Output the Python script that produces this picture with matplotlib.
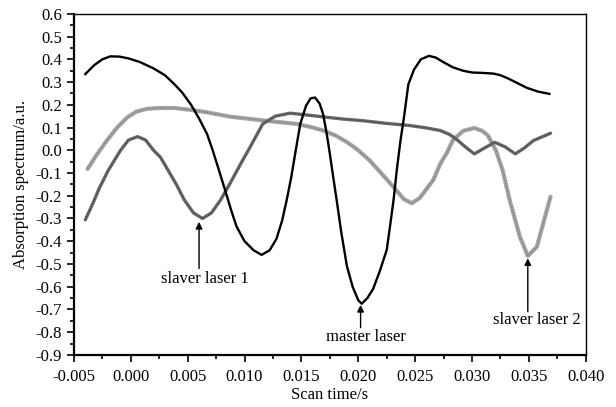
import matplotlib
matplotlib.use("Agg")
import matplotlib.pyplot as plt
from matplotlib.ticker import MultipleLocator, FormatStrFormatter

plt.rcParams["font.family"] = ["Liberation Serif", "DejaVu Serif"]
plt.rcParams["axes.unicode_minus"] = False

# master laser trace (black)
master_t = [-0.0040, -0.0032, -0.0025, -0.0018, -0.0010, -0.0002, 0.0008, 0.0020,
            0.0030, 0.0038, 0.0045, 0.0053, 0.0060, 0.0067, 0.0072, 0.0077,
            0.0083, 0.0088, 0.0093, 0.0100, 0.0108, 0.0115, 0.0122, 0.0128,
            0.0133, 0.0137, 0.0141, 0.0145, 0.0149, 0.0154, 0.0158, 0.0162,
            0.0166, 0.0169, 0.0172, 0.0175, 0.0178, 0.0181, 0.0185, 0.0190,
            0.0195, 0.0200, 0.0203, 0.0208, 0.0213, 0.0219, 0.0225, 0.0228,
            0.0231, 0.0234, 0.0237, 0.0240, 0.0244, 0.0249, 0.0255, 0.0262,
            0.0268, 0.0275, 0.0283, 0.0292, 0.0300, 0.0310, 0.0319, 0.0325,
            0.0332, 0.0340, 0.0348, 0.0358, 0.0368]
master_y = [0.335, 0.375, 0.400, 0.413, 0.412, 0.404, 0.388, 0.360,
            0.330, 0.292, 0.255, 0.200, 0.140, 0.072, 0.000, -0.080,
            -0.177, -0.260, -0.336, -0.400, -0.440, -0.460, -0.440, -0.390,
            -0.310, -0.220, -0.120, 0.000, 0.116, 0.195, 0.228, 0.232,
            0.205, 0.160, 0.080, -0.016, -0.120, -0.220, -0.360, -0.510,
            -0.600, -0.660, -0.675, -0.650, -0.610, -0.530, -0.438, -0.330,
            -0.218, -0.080, 0.040, 0.140, 0.290, 0.355, 0.400, 0.415,
            0.408, 0.387, 0.365, 0.350, 0.342, 0.340, 0.337, 0.330,
            0.315, 0.295, 0.275, 0.258, 0.248]

# slaver laser 1 trace (dark grey)
slave1_t = [-0.0040, -0.0033, -0.0028, -0.0020, -0.0009, -0.0002, 0.0006, 0.0013,
            0.0020, 0.0026, 0.0033, 0.0040, 0.0047, 0.0055, 0.0063, 0.0071,
            0.0079, 0.0087, 0.0097, 0.0105, 0.0116, 0.0127, 0.0140, 0.0155,
            0.0169, 0.0185, 0.0204, 0.0225, 0.0245, 0.0260, 0.0272, 0.0280,
            0.0286, 0.0294, 0.0302, 0.0311, 0.0320, 0.0329, 0.0338, 0.0346,
            0.0354, 0.0362, 0.0369]
slave1_y = [-0.306, -0.230, -0.170, -0.090, 0.000, 0.045, 0.060, 0.045,
            0.000, -0.030, -0.090, -0.150, -0.218, -0.275, -0.300, -0.275,
            -0.218, -0.148, -0.056, 0.015, 0.116, 0.150, 0.163, 0.155,
            0.147, 0.138, 0.130, 0.118, 0.109, 0.098, 0.087, 0.070,
            0.050, 0.015, -0.016, 0.010, 0.035, 0.015, -0.016, 0.010,
            0.043, 0.060, 0.075]

# slaver laser 2 trace (light grey)
slave2_t = [-0.0038, -0.0030, -0.0021, -0.0012, -0.0003, 0.0005, 0.0014, 0.0025,
            0.0038, 0.0052, 0.0067, 0.0087, 0.0108, 0.0128, 0.0146, 0.0160,
            0.0169, 0.0180, 0.0190, 0.0200, 0.0210, 0.0220, 0.0231, 0.0240,
            0.0247, 0.0254, 0.0260, 0.0266, 0.0272, 0.0278, 0.0283, 0.0292,
            0.0302, 0.0309, 0.0314, 0.0321, 0.0327, 0.0333, 0.0342, 0.0349,
            0.0357, 0.0365, 0.0369]
slave2_y = [-0.082, -0.020, 0.043, 0.100, 0.145, 0.170, 0.182, 0.186,
            0.186, 0.178, 0.167, 0.148, 0.136, 0.125, 0.116, 0.100,
            0.087, 0.065, 0.036, 0.000, -0.045, -0.100, -0.162, -0.215,
            -0.233, -0.210, -0.170, -0.130, -0.060, -0.010, 0.043, 0.085,
            0.098, 0.085, 0.065, -0.001, -0.090, -0.218, -0.380, -0.465,
            -0.424, -0.277, -0.204]

# annotations: label, arrow tip, arrow tail, text position
notes = [("slaver laser 1", (0.0060, -0.315), (0.0060, -0.52), (0.0065, -0.565)),
         ("master laser", (0.0202, -0.680), (0.0202, -0.78), (0.0207, -0.82)),
         ("slaver laser 2", (0.0349, -0.475), (0.0349, -0.71), (0.0357, -0.745))]

fig = plt.figure(figsize=(6.16, 4.07), dpi=100)
ax = fig.add_axes([0.120, 0.128, 0.831, 0.838])

ax.plot(slave2_t, slave2_y, color="#a4a4a4", lw=3.0, solid_capstyle="round")
ax.plot(slave2_t, slave2_y, color="#727272", lw=0.8, ls=(0, (1, 1.5)))
ax.plot(slave1_t, slave1_y, color="#6a6a6a", lw=2.4, solid_capstyle="round")
ax.plot(slave1_t, slave1_y, color="#3a3a3a", lw=0.8, ls=(0, (1, 1.5)))
ax.plot(master_t, master_y, color="black", lw=1.7)

for label, tip, tail, txt in notes:
    ax.annotate("", xy=tip, xytext=tail,
                arrowprops=dict(arrowstyle="-|>", color="black", lw=1.0,
                                mutation_scale=10, shrinkA=0, shrinkB=0))
    ax.text(txt[0], txt[1], label, ha="center", va="center", fontsize=12)

ax.set_xlim(-0.005, 0.040)
ax.set_ylim(-0.9, 0.6)
ax.xaxis.set_major_locator(MultipleLocator(0.005))
ax.xaxis.set_minor_locator(MultipleLocator(0.0025))
ax.yaxis.set_major_locator(MultipleLocator(0.1))
ax.yaxis.set_minor_locator(MultipleLocator(0.05))
ax.xaxis.set_major_formatter(FormatStrFormatter("%.3f"))
ax.yaxis.set_major_formatter(FormatStrFormatter("%.1f"))
ax.tick_params(which="both", direction="out", top=False, right=False,
               labelsize=12, width=1.2)
ax.tick_params(which="major", length=5)
ax.tick_params(which="minor", length=3)
ax.tick_params(axis="x", pad=5)
for side in ["left", "bottom"]:
    ax.spines[side].set_linewidth(1.6)
for side in ["top", "right"]:
    ax.spines[side].set_linewidth(1.0)

ax.set_xlabel("Scan time/s", fontsize=12, va="center")
ax.xaxis.set_label_coords(0.5, -0.117)
ax.set_ylabel("Absorption spectrum/a.u.", fontsize=12, labelpad=5)

fig.savefig("out.png", dpi=100)
